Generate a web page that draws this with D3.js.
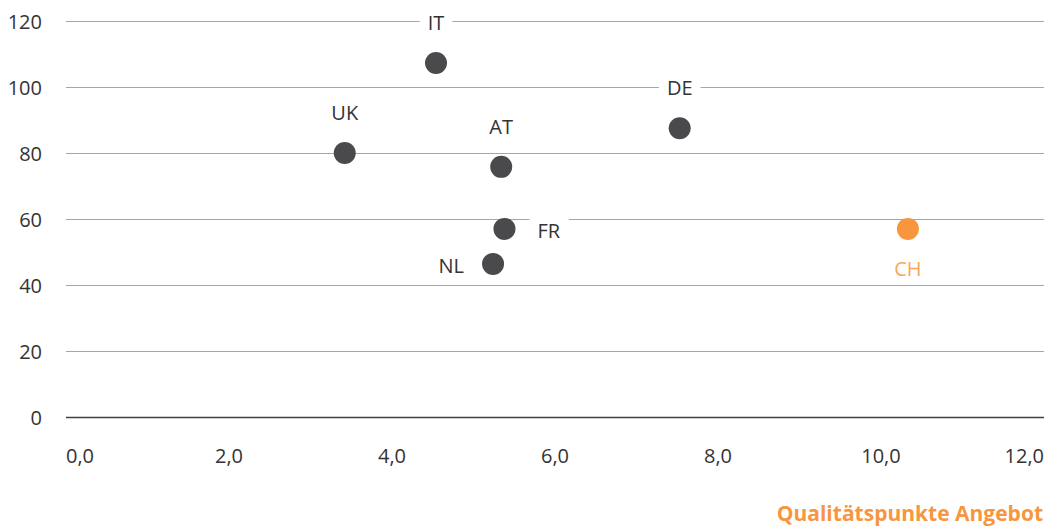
<!DOCTYPE html>
<html><head><meta charset="utf-8">
<script src="https://cdn.jsdelivr.net/npm/d3@7"></script>
<style>
html,body{margin:0;padding:0;background:#fff;}
svg{display:block;font-family:"Open Sans",sans-serif;}
</style></head>
<body>
<svg id="chart" width="1056" height="526"></svg>
<script>
const countries = ["IT","UK","AT","DE","FR","NL","CH"];
const xValues = [4.54, 3.42, 5.34, 7.53, 5.38, 5.24, 10.33];
const yValues = [107.3, 80.0, 75.8, 87.5, 57.0, 46.4, 57.0];
const labelPos = ["top","top","top","top","right","left","bottom"];
const xTicks = [0,2,4,6,8,10,12];
const yTicks = [0,20,40,60,80,100,120];
const xTitle = "Qualitätspunkte Angebot";

const svg = d3.select("#chart");
const x = d3.scaleLinear().domain([0,12]).range([66,1044]);
const y = d3.scaleLinear().domain([0,120]).range([417,21]);
const fmt = d => d3.format(".1f")(d).replace(".", ",");

// gridlines
svg.append("g").selectAll("line").data(yTicks.filter(d=>d>0)).join("line")
  .attr("x1", x(0)).attr("x2", x(12))
  .attr("y1", d=>y(d)+0.5).attr("y2", d=>y(d)+0.5)
  .attr("stroke", "#a6a6a6").attr("stroke-width", 1);
svg.append("line").attr("x1", x(0)).attr("x2", x(12))
  .attr("y1", y(0)+0.5).attr("y2", y(0)+0.5)
  .attr("stroke", "#404040").attr("stroke-width", 1.3);

// y tick labels
svg.append("g").selectAll("text").data(yTicks).join("text")
  .attr("x", 42).attr("y", d=>y(d)+8)
  .attr("text-anchor","end").attr("font-size",20).attr("fill","#333")
  .text(d=>d);

// x tick labels
svg.append("g").selectAll("text").data(xTicks).join("text")
  .attr("x", d=> x(d))
  .attr("y", 463)
  .attr("text-anchor", d=> d===0 ? "start" : d===12 ? "end" : "middle")
  .attr("font-size",20).attr("fill","#333")
  .text(fmt);

// x title
svg.append("text").attr("x", 1043).attr("y", 521)
  .attr("text-anchor","end").attr("font-size",21).attr("font-weight","bold")
  .attr("fill","#f7963f").text(xTitle);

const data = countries.map((c,i)=>({c, x:xValues[i], y:yValues[i], pos:labelPos[i]}));

// labels with white masks
const lg = svg.append("g");
data.forEach(d=>{
  const px = x(d.x), py = y(d.y);
  let tx=px, ty=py, anchor="middle";
  if (d.pos==="top"){ ty = py-33; }
  else if (d.pos==="right"){ tx = px+33; ty = py+9.5; anchor="start"; }
  else if (d.pos==="left"){ tx = px-29; ty = py+9; anchor="end"; }
  else { ty = py+47; }
  const t = lg.append("text").attr("x",tx).attr("y",ty).attr("text-anchor",anchor)
    .attr("font-size",20).attr("fill", d.c==="CH" ? "#f9a65a" : "#333").text(d.c);
  const bb = t.node().getBBox();
  lg.insert("rect", () => t.node()).attr("x", bb.x-8).attr("y", bb.y).attr("width", bb.width+16).attr("height", bb.height)
    .attr("fill","#fff");
});

// points
svg.append("g").selectAll("circle").data(data).join("circle")
  .attr("cx", d=>x(d.x)).attr("cy", d=>y(d.y)).attr("r", 11)
  .attr("fill", d=> d.c==="CH" ? "#f7963f" : "#4a4a4c");
</script>
</body></html>
